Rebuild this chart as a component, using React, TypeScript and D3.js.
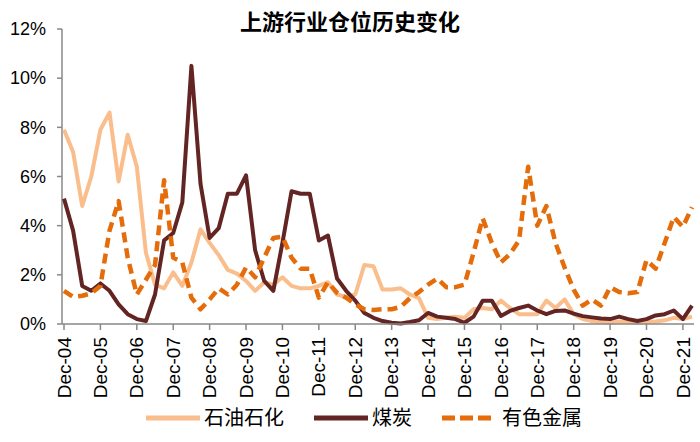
import React from "react";
import * as d3 from "d3";

// quarterly positions, Dec-04 .. Mar-22
const petro = [
  7.9, 7.0, 4.8, 6.0, 7.9, 8.6, 5.8, 7.7, 6.4, 2.9,
  1.6, 1.45, 2.1, 1.55, 2.5, 3.85, 3.3, 2.8, 2.2, 2.05,
  1.75, 1.35, 1.7, 1.6, 1.9, 1.55, 1.45, 1.45, 1.55, 1.7,
  1.2, 1.1, 1.2, 2.4, 2.35, 1.4, 1.4, 1.45, 1.2, 1.05,
  0.25, 0.2, 0.25, 0.3, 0.25, 0.6, 0.65, 0.6, 0.95, 0.65,
  0.4, 0.4, 0.4, 0.95, 0.65, 1.0, 0.4, 0.2, 0.12, 0.08,
  0.05, 0.1, 0.08, 0.05, 0.08, 0.1, 0.15, 0.25, 0.2, 0.3,
];
const coal = [
  5.1, 3.8, 1.55, 1.35, 1.65, 1.35, 0.8, 0.4, 0.2, 0.12,
  1.2, 3.4, 3.7, 4.95, 10.5, 5.7, 3.5, 3.9, 5.3, 5.3,
  6.05, 3.0, 1.75, 1.35, 3.3, 5.4, 5.3, 5.3, 3.4, 3.6,
  1.85, 1.35, 0.95, 0.45, 0.25, 0.12, 0.05, 0.02, 0.08, 0.15,
  0.45, 0.3, 0.25, 0.2, 0.05, 0.3, 0.95, 0.95, 0.33, 0.53,
  0.65, 0.75, 0.55, 0.4, 0.53, 0.55, 0.42, 0.32, 0.27, 0.22,
  0.2, 0.3, 0.2, 0.12, 0.2, 0.35, 0.4, 0.55, 0.2, 0.75,
];
const metals = [
  1.35, 1.1, 1.15, 1.25, 1.55, 3.8, 5.0, 2.7, 1.2, 1.8,
  2.4, 5.85, 2.7, 2.5, 1.07, 0.6, 1.0, 1.45, 1.2, 1.6,
  2.3, 1.9, 2.7, 3.5, 3.55, 2.7, 2.25, 2.25, 1.07, 1.7,
  1.27, 1.07, 0.8, 0.6, 0.57, 0.6, 0.6, 0.7, 1.05, 1.3,
  1.6, 1.85, 1.5, 1.5, 1.6, 2.9, 4.3, 3.3, 2.5, 2.85,
  3.4, 6.4, 4.0, 4.8, 3.3, 2.3, 1.4, 0.75, 1.0, 0.75,
  1.5, 1.3, 1.25, 1.3, 2.6, 2.25, 3.3, 4.35, 3.95, 4.75,
];
const tickLabels = [
  "Dec-04", "Dec-05", "Dec-06", "Dec-07", "Dec-08", "Dec-09",
  "Dec-10", "Dec-11", "Dec-12", "Dec-13", "Dec-14", "Dec-15",
  "Dec-16", "Dec-17", "Dec-18", "Dec-19", "Dec-20", "Dec-21",
];
const yTicks = [0, 2, 4, 6, 8, 10, 12];

const series = [
  { name: "石油石化", values: petro, color: "#F9BE8C", dash: null, width: 4 },
  { name: "煤炭", values: coal, color: "#632523", dash: null, width: 4 },
  { name: "有色金属", values: metals, color: "#E46C0A", dash: "10,6", width: 4.5 },
];

const W = 700;
const H = 442;
const latin = "'Liberation Sans', Arial, sans-serif";
const cjk = "'Noto Sans CJK SC', 'Liberation Sans', sans-serif";

export default function App() {
  const x = d3.scaleLinear().domain([0, petro.length - 1]).range([64, 692]);
  const y = d3.scaleLinear().domain([0, 12]).range([324, 29]);

  const line = d3
    .line<number>()
    .x((_, i) => x(i))
    .y((d) => y(d));

  const legendItems = [
    { lx: 146, tx: 204 },
    { lx: 314, tx: 372 },
    { lx: 442, tx: 502 },
  ];

  return (
    <svg
      width={W}
      height={H}
      style={{ position: "absolute", left: 0, top: 0, background: "#fff" }}
    >
      <text
        x={350}
        y={30}
        textAnchor="middle"
        fontFamily={cjk}
        fontWeight="bold"
        fontSize={22}
        fill="#000"
      >
        上游行业仓位历史变化
      </text>

      {/* y axis */}
      <line x1={62} x2={62} y1={y(12)} y2={y(0)} stroke="#888" strokeWidth={1.5} />
      {yTicks.map((t) => (
        <g key={t}>
          <line x1={57} x2={62} y1={y(t)} y2={y(t)} stroke="#888" strokeWidth={1.5} />
          <text
            x={46}
            y={y(t)}
            dy="0.35em"
            textAnchor="end"
            fontFamily={latin}
            fontSize={18}
            fill="#000"
          >
            {t}%
          </text>
        </g>
      ))}

      {/* lines */}
      {series.map((s) => (
        <path
          key={s.name}
          d={line(s.values) ?? ""}
          fill="none"
          stroke={s.color}
          strokeWidth={s.width}
          strokeDasharray={s.dash ?? undefined}
          strokeLinejoin="round"
        />
      ))}

      {/* x axis */}
      <line x1={62} x2={694} y1={y(0)} y2={y(0)} stroke="#888" strokeWidth={1.5} />
      {tickLabels.map((lab, k) => {
        const px = x(k * 4);
        return (
          <g key={lab}>
            <line x1={px} x2={px} y1={y(0)} y2={y(0) + 6} stroke="#888" strokeWidth={1.5} />
            <text
              transform={`translate(${px},337) rotate(-90)`}
              dy="0.35em"
              textAnchor="end"
              fontFamily={latin}
              fontSize={19}
              fill="#000"
            >
              {lab}
            </text>
          </g>
        );
      })}

      {/* legend */}
      {series.map((s, i) => (
        <g key={s.name}>
          <line
            x1={legendItems[i].lx}
            x2={legendItems[i].lx + 54}
            y1={418}
            y2={418}
            stroke={s.color}
            strokeWidth={5}
            strokeDasharray={s.dash ? "13,5" : undefined}
          />
          <text
            x={legendItems[i].tx}
            y={418}
            dy="0.35em"
            fontFamily={cjk}
            fontSize={20}
            fill="#000"
          >
            {s.name}
          </text>
        </g>
      ))}
    </svg>
  );
}
